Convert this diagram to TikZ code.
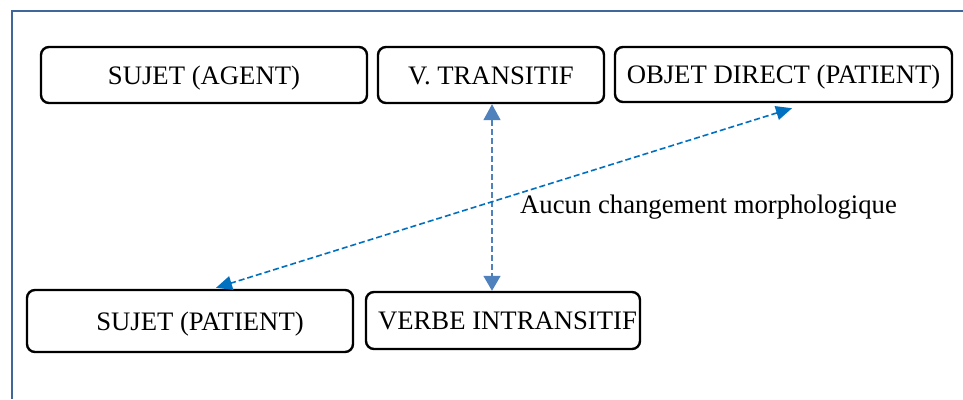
\documentclass[tikz,border=0pt]{standalone}
\usepackage{fontspec}
\setmainfont{Liberation Serif}
\usetikzlibrary{arrows.meta,calc}
\definecolor{framecol}{HTML}{41679A}
\definecolor{vcol}{HTML}{4F81BD}
\definecolor{dcol}{HTML}{0070C0}
\tikzset{
  box/.style={draw=black, line width=2.4pt, rounded corners=8pt, inner sep=0pt,
    text height=18pt, text depth=0pt,
    font=\fontsize{26.7}{32}\selectfont, text=black},
  dasharrow/.style={line width=1.6pt, dash pattern=on 6pt off 3pt},
}
\begin{document}
\begin{tikzpicture}[x=1pt,y=-1pt]
\useasboundingbox (0,0) rectangle (963,399);
\fill[white] (0,0) rectangle (963,399);
\draw[framecol, line width=2pt] (12,399) -- (12,11) -- (963,11);

\node[box, minimum width=326pt, minimum height=56pt] (A) at (204,75) {SUJET (AGENT)};
\node[box, minimum width=226pt, minimum height=56pt] (B) at (491,75) {V. TRANSITIF\hspace{19pt}};
\node[box, minimum width=337pt, minimum height=55pt] (C) at (783.5,74.5) {OBJET DIRECT (PATIENT)};
\node[box, minimum width=326pt, minimum height=62pt] (D) at (190,321) {\hspace{20pt}SUJET (PATIENT)};
\node[box, minimum width=274pt, minimum height=57pt] (E) at (503,320.5) {\hspace{9pt}VERBE INTRANSITIF};

\draw[dasharrow, vcol, {Triangle[length=16pt,width=17pt]}-{Triangle[length=15pt,width=17pt]}]
  ($(B.south)+(1,0)$) -- ($(B.south |- E.north)+(1,0)$);
\draw[dasharrow, dcol, {Triangle[length=16pt,width=14pt]}-{Triangle[length=16pt,width=14pt]}]
  ($(C.south)+(8.5,5)$) -- ($(D.north)+(26,-1)$);

\node[anchor=base west, inner sep=0pt, font=\fontsize{26.7}{32}\selectfont] (L) at (520,213) {Aucun changement morphologique};
\end{tikzpicture}
\end{document}
